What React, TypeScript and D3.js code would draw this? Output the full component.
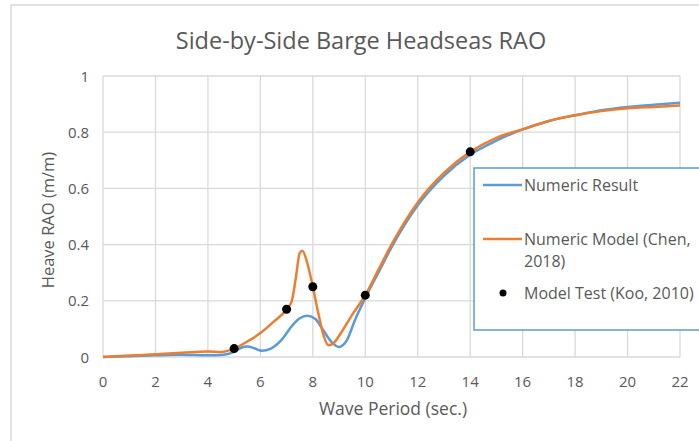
import * as d3 from 'd3';

const W = 699;
const H = 441;

const title = 'Side-by-Side  Barge Headseas RAO';
const xTicks = [0, 2, 4, 6, 8, 10, 12, 14, 16, 18, 20, 22];
const yTicks = [0, 0.2, 0.4, 0.6, 0.8, 1];
const yTickLabels = ['0', '0.2', '0.4', '0.6', '0.8', '1'];

// Numeric Result (blue)
const resultT = [0, 1, 2, 3, 4, 4.6, 5, 5.25, 5.5, 5.8, 6.05, 6.4, 6.8, 7.2, 7.5, 7.8, 8.1, 8.4, 8.7, 9.0, 9.3, 9.6, 10, 10.5, 11, 11.5, 12, 13, 14, 15, 16, 17, 18, 19, 20, 21, 22];
const resultV = [0, 0.003, 0.006, 0.008, 0.006, 0.008, 0.018, 0.032, 0.037, 0.03, 0.022, 0.03, 0.06, 0.11, 0.138, 0.147, 0.135, 0.095, 0.055, 0.036, 0.06, 0.13, 0.21, 0.3, 0.39, 0.47, 0.54, 0.645, 0.72, 0.77, 0.81, 0.84, 0.86, 0.878, 0.89, 0.898, 0.905];

// Numeric Model (Chen, 2018) (orange)
const chenT = [0, 1, 2, 3, 4, 4.5, 5, 5.5, 6, 6.5, 7, 7.2, 7.35, 7.5, 7.6, 7.8, 8, 8.2, 8.4, 8.6, 8.8, 9.1, 9.5, 10, 10.5, 11, 11.5, 12, 13, 14, 15, 16, 17, 18, 19, 20, 21, 22];
const chenV = [0, 0.005, 0.01, 0.015, 0.02, 0.018, 0.03, 0.055, 0.085, 0.125, 0.17, 0.2, 0.28, 0.37, 0.378, 0.33, 0.25, 0.16, 0.08, 0.042, 0.05, 0.09, 0.15, 0.22, 0.31, 0.4, 0.48, 0.55, 0.655, 0.73, 0.78, 0.81, 0.84, 0.86, 0.875, 0.885, 0.89, 0.895];

// Model Test (Koo, 2010)
const testT = [5, 7, 8, 10, 14];
const testV = [0.03, 0.17, 0.25, 0.22, 0.73];

const FONT = '"Open Sans", Lato, sans-serif';
const TXT = '#595959';
const GRID = '#d9d9d9';

export default function App() {
  const x = d3.scaleLinear().domain([0, 22]).range([103, 680]);
  const y = d3.scaleLinear().domain([0, 1]).range([357, 76]);

  const line = d3
    .line<[number, number]>()
    .x((d) => x(d[0]))
    .y((d) => y(d[1]))
    .curve(d3.curveMonotoneX);

  const result = resultT.map((t, i) => [t, resultV[i]] as [number, number]);
  const chen = chenT.map((t, i) => [t, chenV[i]] as [number, number]);

  return (
    <div style={{ position: 'fixed', left: 0, top: 0, width: W, height: H, background: '#fff' }}>
      <svg width={W} height={H} style={{ display: 'block' }}>
        {/* outer chart frame */}
        <rect x={11} y={5} width={W} height={H} fill="#fff" stroke={GRID} strokeWidth={1.5} />

        <text x={361} y={49} textAnchor="middle" fontFamily={FONT} fontSize={23.5} fill={TXT}>
          {title}
        </text>

        {/* grid */}
        {xTicks.map((t) => (
          <line key={'gx' + t} x1={x(t)} x2={x(t)} y1={y(1)} y2={y(0)} stroke={GRID} strokeWidth={1.3} />
        ))}
        {yTicks.map((t) => (
          <line key={'gy' + t} x1={x(0)} x2={x(22)} y1={y(t)} y2={y(t)} stroke={GRID} strokeWidth={1.3} />
        ))}

        {/* tick labels */}
        {xTicks.map((t) => (
          <text key={'tx' + t} x={x(t)} y={387} textAnchor="middle" fontFamily={FONT} fontSize={15} fill={TXT}>
            {t}
          </text>
        ))}
        {yTicks.map((t, i) => (
          <text key={'ty' + t} x={89} y={y(t) + 5.5} textAnchor="end" fontFamily={FONT} fontSize={15} fill={TXT}>
            {yTickLabels[i]}
          </text>
        ))}

        <text x={393} y={415} textAnchor="middle" fontFamily={FONT} fontSize={17.5} fill={TXT}>
          Wave Period (sec.)
        </text>
        <text
          transform={`translate(54,${220}) rotate(-90)`}
          textAnchor="middle"
          fontFamily={FONT}
          fontSize={16.5}
          fill={TXT}
        >
          Heave RAO (m/m)
        </text>

        {/* series */}
        <path d={line(result) ?? ''} fill="none" stroke="#5B9BD5" strokeWidth={2.5} strokeLinejoin="round" />
        <path d={line(chen) ?? ''} fill="none" stroke="#ED7D31" strokeWidth={2.5} strokeLinejoin="round" />
        {testT.map((t, i) => (
          <circle key={'p' + t} cx={x(t)} cy={y(testV[i])} r={4.5} fill="#000" />
        ))}

        {/* legend */}
        <rect x={474} y={168} width={240} height={162} fill="#fff" stroke="#5B9BD5" strokeWidth={1.5} />
        <line x1={483} x2={522} y1={185} y2={185} stroke="#5B9BD5" strokeWidth={2.5} />
        <text x={524} y={191} fontFamily={FONT} fontSize={16} fill={TXT}>
          Numeric Result
        </text>
        <line x1={483} x2={522} y1={239} y2={239} stroke="#ED7D31" strokeWidth={2.5} />
        <text x={524} y={245} fontFamily={FONT} fontSize={16} fill={TXT}>
          Numeric Model (Chen,
        </text>
        <text x={524} y={267} fontFamily={FONT} fontSize={16} fill={TXT}>
          2018)
        </text>
        <circle cx={503} cy={293} r={3.5} fill="#000" />
        <text x={524} y={299} fontFamily={FONT} fontSize={16} fill={TXT}>
          Model Test (Koo, 2010)
        </text>
      </svg>
    </div>
  );
}
